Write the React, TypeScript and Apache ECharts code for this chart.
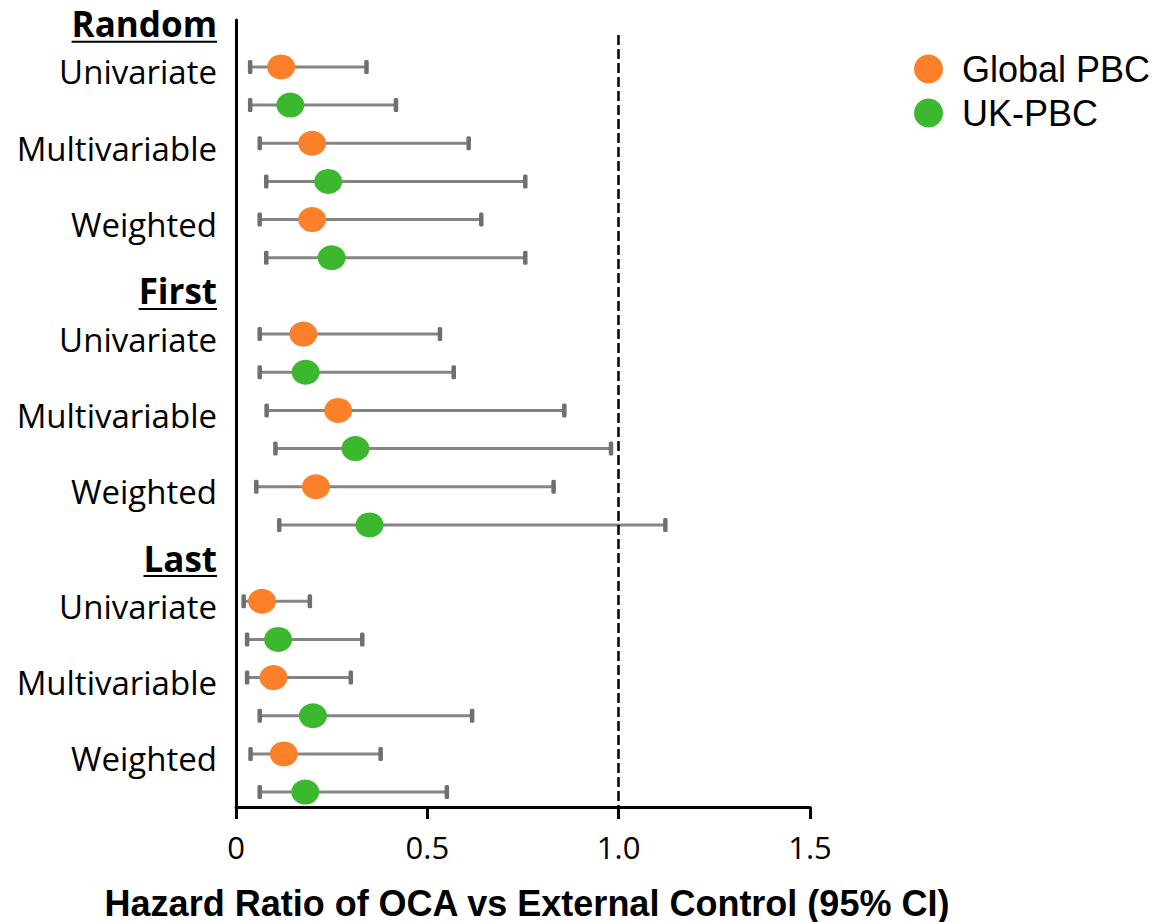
import React, { useEffect, useRef } from 'react';
import * as echarts from 'echarts';

const groups = ['Random', 'First', 'Last'];
const methods = ['Univariate', 'Multivariable', 'Weighted'];
const seriesNames = ['Global PBC', 'UK-PBC'];
// order: Random U, M, W, First U, M, W, Last U, M, W
const globalHR = [0.118, 0.199, 0.199, 0.176, 0.267, 0.209, 0.068, 0.098, 0.125];
const globalLo = [0.037, 0.062, 0.062, 0.062, 0.080, 0.053, 0.020, 0.029, 0.038];
const globalHi = [0.341, 0.608, 0.641, 0.533, 0.858, 0.830, 0.193, 0.300, 0.378];
const ukHR = [0.142, 0.241, 0.250, 0.182, 0.312, 0.349, 0.110, 0.201, 0.181];
const ukLo = [0.037, 0.079, 0.079, 0.062, 0.103, 0.113, 0.029, 0.062, 0.062];
const ukHi = [0.418, 0.756, 0.756, 0.569, 0.980, 1.122, 0.330, 0.617, 0.551];
const xMin = 0;
const xMax = 1.5;
const xInterval = 0.5;
const refLine = 1.0;
const xTitle = 'Hazard Ratio of OCA vs External Control (95% CI)';

const ORANGE = '#fc7f2a';
const GREEN = '#3bb82e';
const LABEL_FONT = '"Open Sans", Lato, sans-serif';
const ARIAL = '"Liberation Sans", Arial, sans-serif';

const rowsPerGroup = methods.length * 2 + 1;
const rowOf = (g: number, m: number, s: number) => g * rowsPerGroup + 1 + m * 2 + s;

export default function App() {
  const ref = useRef<HTMLDivElement>(null);
  useEffect(() => {
    document.body.style.margin = '0';
    if (!ref.current) return;
    const chart = echarts.init(ref.current, undefined, { renderer: 'svg' });

    const ctx = document.createElement('canvas').getContext('2d')!;
    ctx.font = 'bold 35px "Open Sans"';
    const rich: any = {
      h: { fontFamily: LABEL_FONT, fontWeight: 'bold', fontSize: 35, color: '#000', lineHeight: 34 },
      m: { fontFamily: LABEL_FONT, fontSize: 33, color: '#000', lineHeight: 36 },
    };
    groups.forEach((g, i) => {
      rich['u' + i] = { width: ctx.measureText(g).width, height: 2, backgroundColor: '#000' };
    });

    const labelData: any[] = [];
    groups.forEach((g, gi) => {
      labelData.push({ value: [0, gi * rowsPerGroup], name: g, header: gi, label: { offset: [0, -4] } });
      methods.forEach((m, mi) => {
        labelData.push({ value: [0, rowOf(gi, mi, 0)], name: m, label: { offset: [0, 5] } });
      });
    });

    const ciData = (lo: number[], hi: number[], s: number) => {
      const out: any[] = [];
      groups.forEach((_, gi) => methods.forEach((__, mi) => {
        const k = gi * methods.length + mi;
        out.push([lo[k], hi[k], rowOf(gi, mi, s)]);
      }));
      return out;
    };
    const ptData = (hr: number[], s: number) => {
      const out: any[] = [];
      groups.forEach((_, gi) => methods.forEach((__, mi) => {
        const k = gi * methods.length + mi;
        out.push([hr[k], rowOf(gi, mi, s)]);
      }));
      return out;
    };

    const renderCI = (params: any, api: any) => {
      const lo = api.value(0);
      const hi = api.value(1);
      const y = api.value(2);
      const p1 = api.coord([lo, y]);
      const p2 = api.coord([hi, y]);
      const capH = 14;
      const capW = 4.5;
      return {
        type: 'group',
        children: [
          { type: 'line', shape: { x1: p1[0], y1: p1[1], x2: p2[0], y2: p2[1] }, style: { stroke: '#858585', lineWidth: 3 } },
          { type: 'rect', shape: { x: p1[0] - capW / 2, y: p1[1] - capH / 2, width: capW, height: capH, r: 1.5 }, style: { fill: '#6f6f6f' } },
          { type: 'rect', shape: { x: p2[0] - capW / 2, y: p2[1] - capH / 2, width: capW, height: capH, r: 1.5 }, style: { fill: '#6f6f6f' } },
        ],
      };
    };

    const totalRows = groups.length * rowsPerGroup - 1;

    chart.setOption({
      animation: false,
      backgroundColor: '#fff',
      grid: { left: 236, right: 351, top: 20, bottom: 115, containLabel: false, outerBoundsMode: 'none' },
      legend: {
        data: seriesNames,
        orient: 'vertical',
        left: 909,
        top: 46,
        itemWidth: 29,
        itemHeight: 29,
        itemGap: 8,
        icon: 'circle',
        textStyle: { fontFamily: ARIAL, fontSize: 36, lineHeight: 30, color: '#000', padding: [0, 0, 0, 14] },
      },
      xAxis: {
        type: 'value',
        min: xMin,
        max: xMax,
        interval: xInterval,
        name: xTitle,
        nameLocation: 'middle',
        nameGap: 78,
        nameTextStyle: { fontFamily: ARIAL, fontWeight: 'bold', fontSize: 36, lineHeight: 36, color: '#000', padding: [0, 0, 0, 8] },
        axisLine: { onZero: false, lineStyle: { color: '#000', width: 3 } },
        axisTick: { show: true, length: 12, lineStyle: { color: '#000', width: 3 } },
        axisLabel: {
          fontFamily: LABEL_FONT, fontSize: 31, color: '#000', margin: 24,
          formatter: (v: number) => (v === 0 ? '0' : v.toFixed(1)),
        },
        splitLine: { show: false },
      },
      yAxis: {
        type: 'value',
        inverse: true,
        min: -0.23,
        max: totalRows + 0.39,
        axisLine: { show: true, onZero: false, lineStyle: { color: '#000', width: 3 } },
        axisTick: { show: false },
        axisLabel: { show: false },
        splitLine: { show: false },
      },
      series: [
        {
          name: 'ci-global', type: 'custom', renderItem: renderCI, z: 2,
          encode: { x: [0, 1], y: 2 }, data: ciData(globalLo, globalHi, 0), silent: true,
        },
        {
          name: 'ci-uk', type: 'custom', renderItem: renderCI, z: 2,
          encode: { x: [0, 1], y: 2 }, data: ciData(ukLo, ukHi, 1), silent: true,
        },
        {
          name: seriesNames[0], type: 'scatter', z: 3, symbol: 'circle', symbolSize: [28, 25],
          itemStyle: { color: ORANGE, opacity: 1 }, data: ptData(globalHR, 0),
        },
        {
          name: seriesNames[1], type: 'scatter', z: 3, symbol: 'circle', symbolSize: [28, 25],
          itemStyle: { color: GREEN, opacity: 1 }, data: ptData(ukHR, 1),
        },
        {
          name: 'labels', type: 'scatter', symbolSize: 0, clip: false, silent: true, z: 1,
          data: labelData,
          itemStyle: { opacity: 1 },
          label: {
            show: true,
            position: 'left',
            distance: 19,
            align: 'right',
            color: '#000',
            opacity: 1,
            rich,
            formatter: (p: any) => {
              const d = p.data;
              if (d.header !== undefined) return `{h|${d.name}}\n{u${d.header}|}`;
              return `{m|${d.name}}`;
            },
          },
          markLine: {
            silent: true,
            symbol: ['none', 'none'],
            label: { show: false },
            lineStyle: { color: '#000', width: 2.5, type: [10, 4], opacity: 1 },
            data: [[{ coord: [refLine, 0.16] }, { coord: [refLine, totalRows + 0.39] }]],
          },
        },
      ],
    });
    return () => chart.dispose();
  }, []);
  return <div ref={ref} style={{ width: 1161, height: 922 }} />;
}
